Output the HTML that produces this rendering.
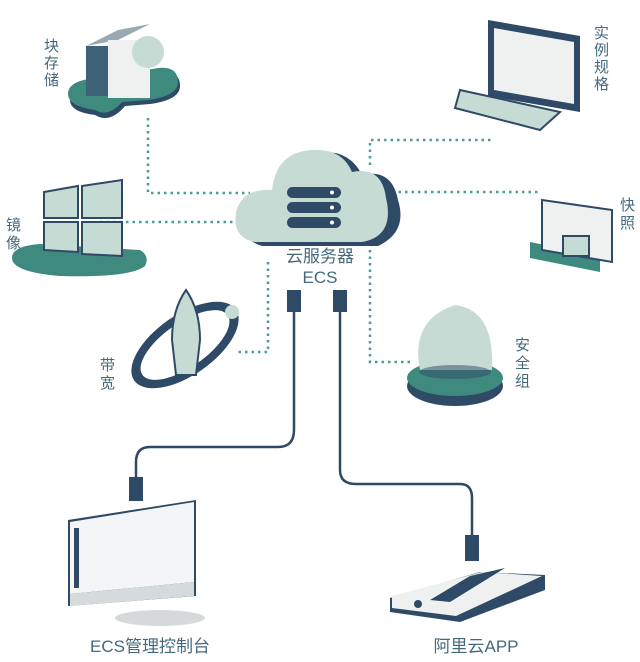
<!DOCTYPE html>
<html><head><meta charset="utf-8"><style>
html,body{margin:0;padding:0;background:#fff;}
svg{display:block}
text{font-family:"Liberation Sans","Noto Sans CJK SC",sans-serif;fill:#46687d;}
</style></head><body>
<svg width="640" height="662" viewBox="0 0 640 662" xmlns="http://www.w3.org/2000/svg">
<g fill="none" stroke="#4a9d95" stroke-width="2.5" stroke-dasharray="2.5 4">
<path d="M148 118 V193 H250"/>
<path d="M100 222 H250"/>
<path d="M268 262 V352 H235"/>
<path d="M370 165 V140 H492"/>
<path d="M392 192 H540"/>
<path d="M370 250 V362 H410"/>
</g>
<!-- cloud -->
<path d="M262 246 Q240 240 245 215 Q250 190 280 192 Q285 155 320 152 Q350 150 362 175 Q392 168 398 200 Q408 232 378 246 Z" fill="#2f4a66"/>
<path d="M255 242 Q232 238 236 212 Q242 188 272 190 Q276 152 312 150 Q342 148 352 172 Q382 166 386 198 Q395 236 362 242 Z" fill="#c7dbd5"/>
<g fill="#2f4a66"><rect x="287" y="187" width="54" height="11" rx="5.5"/><rect x="287" y="202" width="54" height="11" rx="5.5"/><rect x="287" y="217" width="54" height="11" rx="5.5"/></g>
<g fill="#fff"><circle cx="332" cy="192.5" r="2"/><circle cx="332" cy="207.5" r="2"/><circle cx="332" cy="222.5" r="2"/></g>
<text x="320" y="262" font-size="17" text-anchor="middle">云服务器</text>
<text x="320" y="283" font-size="17" text-anchor="middle">ECS</text>
<!-- cables -->
<g fill="none" stroke="#2f4a66" stroke-width="2.5">
<path d="M294 300 V430 Q294 447 278 447 H150 Q136 447 136 462 V480"/>
<path d="M340 300 V470 Q340 484 356 484 H460 Q472 484 472 498 V535"/>
</g>
<g fill="#2f4a66">
<rect x="287" y="290" width="14" height="22"/><rect x="333" y="290" width="14" height="22"/>
<rect x="129" y="477" width="14" height="24"/><rect x="465" y="535" width="14" height="26"/>
</g>
<!-- block storage -->
<path d="M70 100 Q70 84 100 82 L160 72 Q180 70 180 86 Q180 100 150 104 L125 106 Q110 124 95 115 Q70 112 70 100Z" fill="#2f4a66"/>
<path d="M68 94 Q68 80 98 78 L158 68 Q178 66 178 82 Q178 96 148 100 L122 102 Q108 118 95 110 Q68 106 68 94Z" fill="#3f8a7f"/>
<path d="M86 46 L118 40 L150 24 L118 30Z" fill="#9aaab4"/>
<rect x="86" y="46" width="22" height="50" fill="#3e6178"/><rect x="108" y="40" width="42" height="58" fill="#eef1f0"/>
<circle cx="148" cy="52" r="16" fill="#c7dbd5"/>
<text x="44" y="51" font-size="15">块</text><text x="44" y="68" font-size="15">存</text><text x="44" y="85" font-size="15">储</text>
<!-- mirror -->
<path d="M12 258 Q12 246 40 244 L140 250 Q150 256 145 266 Q130 278 60 276 Q12 272 12 258Z" fill="#3f8a7f"/>
<g fill="#c7dbd5" stroke="#2f4a66" stroke-width="2"><path d="M44 192 L78 186 V218 L44 218Z"/><path d="M82 186 L122 180 V218 L82 218Z"/><path d="M44 222 H78 V252 L44 250Z"/><path d="M82 222 H122 V256 L82 254Z"/></g>
<text x="6" y="230" font-size="15">镜</text><text x="6" y="248" font-size="15">像</text>
<!-- bandwidth -->
<ellipse cx="185" cy="345" rx="62" ry="30" transform="rotate(-35 185 345)" fill="#2f4a66"/>
<ellipse cx="185" cy="345" rx="52" ry="22" transform="rotate(-35 185 345)" fill="#fff"/>
<path d="M186 290 Q200 310 200 340 L196 375 H176 L172 340 Q172 310 186 290Z" fill="#c7dbd5" stroke="#2f4a66" stroke-width="2"/>
<circle cx="232" cy="312" r="7" fill="#c7dbd5"/>
<text x="100" y="370" font-size="15">带</text><text x="100" y="388" font-size="15">宽</text>
<!-- instance spec -->
<path d="M460 90 L560 112 L540 130 L455 108Z" fill="#c7dbd5" stroke="#2f4a66" stroke-width="2"/>
<path d="M488 20 L580 36 V112 L488 96Z" fill="#2f4a66"/><path d="M494 28 L574 42 V104 L494 90Z" fill="#eef1f0"/>
<text x="594" y="38" font-size="15">实</text><text x="594" y="55" font-size="15">例</text><text x="594" y="72" font-size="15">规</text><text x="594" y="89" font-size="15">格</text>
<!-- snapshot -->
<path d="M530 258 L600 272 V256 L530 242Z" fill="#3f8a7f"/>
<path d="M542 200 L612 210 V262 L542 250Z" fill="#eef1f0" stroke="#2f4a66" stroke-width="2"/>
<rect x="563" y="236" width="26" height="20" fill="#c7dbd5" stroke="#2f4a66" stroke-width="2"/>
<text x="620" y="210" font-size="15">快</text><text x="620" y="228" font-size="15">照</text>
<!-- security -->
<ellipse cx="455" cy="386" rx="48" ry="20" fill="#2f4a66"/><ellipse cx="455" cy="378" rx="48" ry="18" fill="#3f8a7f"/>
<path d="M420 370 Q410 320 455 305 Q495 310 492 370Z" fill="#c7dbd5"/>
<ellipse cx="455" cy="372" rx="36" ry="7" fill="#2f4a66" opacity=".5"/>
<text x="515" y="350" font-size="15">安</text><text x="515" y="368" font-size="15">全</text><text x="515" y="386" font-size="15">组</text>
<!-- monitor -->
<ellipse cx="160" cy="618" rx="45" ry="8" fill="#d6d9da"/>
<path d="M68 520 L196 500 V596 L68 606Z" fill="#2f4a66"/>
<path d="M70 522 L194 502 V582 L70 594Z" fill="#f3f5f6"/>
<path d="M70 594 L194 582 V596 L70 606Z" fill="#d5dadc"/>
<rect x="74" y="528" width="5" height="60" fill="#2f4a66"/>
<!-- tablet -->
<path d="M390 598 L480 572 L545 575 L545 590 L460 622 L390 612Z" fill="#2f4a66"/>
<path d="M392 596 L482 572 L542 576 L456 616 L392 608Z" fill="#eef1f0"/>
<path d="M470 576 L505 568 L450 602 L430 600Z" fill="#2f4a66"/>
<circle cx="418" cy="604" r="4" fill="#2f4a66"/>
<text x="150" y="652" font-size="17" text-anchor="middle">ECS管理控制台</text>
<text x="476" y="652" font-size="17" text-anchor="middle">阿里云APP</text>
</svg>
</body></html>
